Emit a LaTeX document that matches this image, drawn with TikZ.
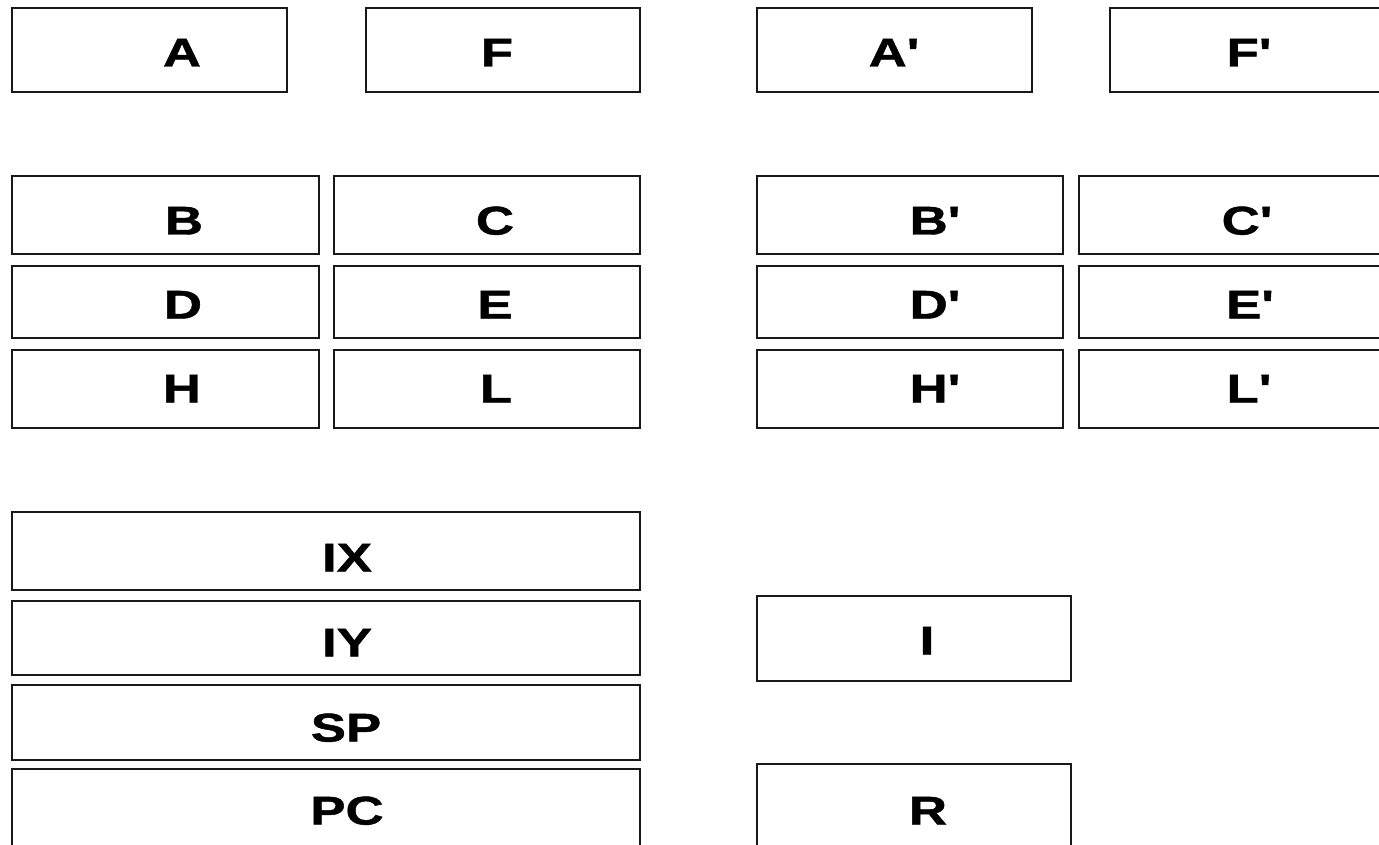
\documentclass[tikz,border=0pt]{standalone}
\usepackage{fontspec}
\newfontfamily\lblfont[FakeStretch=1.32,FakeBold=1.2]{Liberation Sans Bold}
\tikzset{
  regbox/.style={draw=black!90, line width=2.4pt, fill=white, rectangle, inner sep=0pt},
  reglbl/.style={inner sep=0pt, text height=29pt, text depth=0pt, font=\lblfont\fontsize{40}{40}\selectfont}
}
% \regbox{name}{x1}{x2}{y1}{y2}{text}{label x}{label y}
\newcommand\regbox[8]{%
  \node[regbox, minimum width={#3-#2}, minimum height={#5-#4}] (#1) at ({(#2+#3)/2},{(#4+#5)/2}) {};
  \node[reglbl] (#1-t) at (#7,#8) {#6};
}
\begin{document}
\begin{tikzpicture}[x=1pt,y=-1pt]
\useasboundingbox (0,0) rectangle (1379,845);
\clip (0,0) rectangle (1379,845);
\fill[white] (0,0) rectangle (1379,845);
% top row
\regbox{A}{12}{287}{8}{92}{A}{182}{52}
\regbox{F}{366}{640}{8}{92}{F}{497}{52}
\regbox{Ap}{757}{1032}{8}{92}{A'}{894}{52}
\regbox{Fp}{1110}{1385}{8}{92}{F'}{1249}{52}
% pairs
\regbox{B}{12}{319}{176}{254}{B}{184}{220}
\regbox{C}{334}{640}{176}{254}{C}{495}{220}
\regbox{Bp}{757}{1063}{176}{254}{B'}{935}{220}
\regbox{Cp}{1079}{1385}{176}{254}{C'}{1247}{220}
\regbox{D}{12}{319}{266}{338}{D}{183}{304}
\regbox{E}{334}{640}{266}{338}{E}{495}{304}
\regbox{Dp}{757}{1063}{266}{338}{D'}{935}{304}
\regbox{Ep}{1079}{1385}{266}{338}{E'}{1250}{304}
\regbox{H}{12}{319}{350}{428}{H}{182}{388}
\regbox{L}{334}{640}{350}{428}{L}{496}{388}
\regbox{Hp}{757}{1063}{350}{428}{H'}{935}{388}
\regbox{Lp}{1079}{1385}{350}{428}{L'}{1249}{388}
% special registers
\regbox{IX}{12}{640}{512}{590}{IX}{347}{557}
\regbox{IY}{12}{640}{601}{675}{IY}{347}{642}
\regbox{SP}{12}{640}{685}{760}{SP}{346}{727}
\regbox{PC}{12}{640}{769}{860}{PC}{347}{810}
\regbox{I}{757}{1071}{596}{681}{I}{927}{640}
\regbox{R}{757}{1071}{764}{860}{R}{928}{810}
\end{tikzpicture}
\end{document}
